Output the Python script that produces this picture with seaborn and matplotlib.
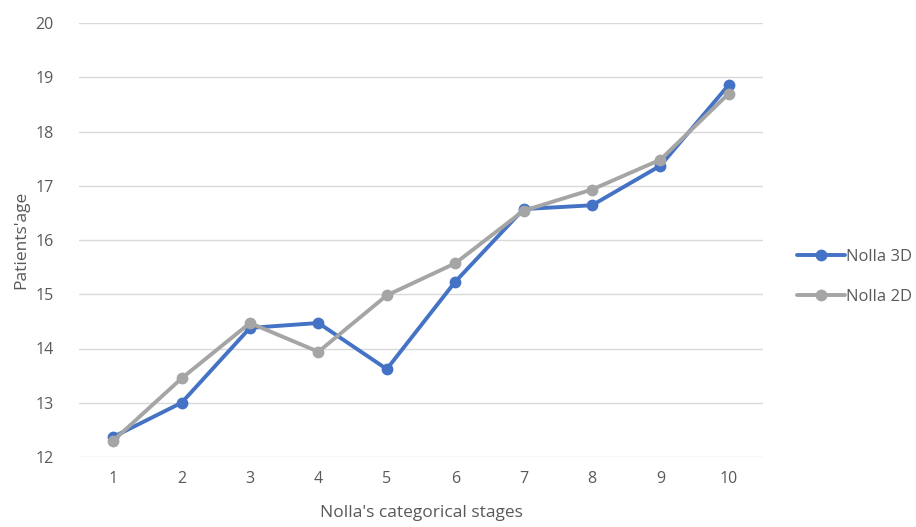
import matplotlib
matplotlib.use("Agg")
import matplotlib.pyplot as plt
import seaborn as sns
import pandas as pd

stages = [1, 2, 3, 4, 5, 6, 7, 8, 9, 10]
nolla_3d = [12.37, 13.0, 14.38, 14.47, 13.62, 15.23, 16.57, 16.64, 17.37, 18.86]
nolla_2d = [12.30, 13.45, 14.47, 13.94, 14.98, 15.57, 16.54, 16.93, 17.48, 18.70]
series_names = ["Nolla 3D", "Nolla 2D"]
y_ticks = [12, 13, 14, 15, 16, 17, 18, 19, 20]

df = pd.DataFrame({
    "stage": stages * 2,
    "age": nolla_3d + nolla_2d,
    "series": [series_names[0]] * len(stages) + [series_names[1]] * len(stages),
})

sns.set_theme(style="white")
plt.rcParams["font.family"] = ["Open Sans", "DejaVu Sans"]
text_color = "#595959"

fig = plt.figure(figsize=(9.16, 5.27), dpi=100)
ax = fig.add_axes([79 / 916, 1 - 457 / 527, (763 - 79) / 916, (457 - 23) / 527])

palette = {"Nolla 3D": "#4472C4", "Nolla 2D": "#A5A5A5"}
sns.lineplot(data=df, x="stage", y="age", hue="series", hue_order=series_names,
             palette=palette, marker="o", markersize=8.5, markeredgewidth=0,
             linewidth=2.8, ax=ax, legend=True)

ax.set_xlim(0.5, 10.5)
ax.set_ylim(12, 20)
ax.set_xticks(stages)
ax.set_xticklabels([str(s) for s in stages])
ax.set_yticks(y_ticks)
ax.grid(axis="y", color="#D9D9D9", linewidth=1)
ax.set_axisbelow(True)
for s in ax.spines.values():
    s.set_visible(False)
ax.tick_params(axis="both", length=0, labelsize=11.5, colors=text_color)
ax.tick_params(axis="x", pad=10)
ax.tick_params(axis="y", pad=18)
ax.set_xlabel("Nolla's categorical stages", fontsize=12.5, color=text_color, labelpad=13)
ax.set_ylabel("Patients'age", fontsize=12.5, color=text_color, labelpad=5)

handles, labels = ax.get_legend_handles_labels()
ax.get_legend().remove()
fig.legend(handles, labels, loc="center left", bbox_to_anchor=(797 / 916, 1 - 277 / 527),
           frameon=False, fontsize=12, labelcolor=text_color, handlelength=2.9,
           handletextpad=0.05, labelspacing=1.45, borderaxespad=0, borderpad=0)

fig.savefig("out.png", dpi=100)
